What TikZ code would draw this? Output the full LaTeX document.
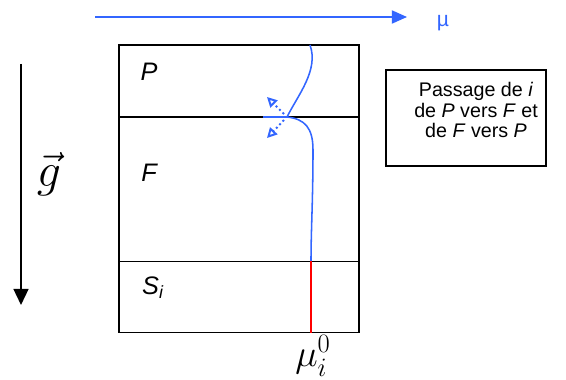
\RequirePackage{fix-cm}
\documentclass[tikz,border=0pt]{standalone}
\usepackage{fontspec}
\setmainfont{Liberation Sans}
\usetikzlibrary{arrows.meta, positioning}
\definecolor{curveblue}{RGB}{51,102,255}
\definecolor{seedred}{RGB}{255,0,0}

\begin{document}
\begin{tikzpicture}[
  x=0.025cm, y=-0.025cm,
  phase/.style={rectangle, draw, line width=0.9pt, minimum width=6cm, outer sep=0pt, inner sep=0pt},
  phlabel/.style={font=\fontsize{18}{20}\selectfont\itshape},
  info/.style={rectangle, draw, line width=0.9pt, minimum width=4cm, minimum height=2.4cm},
  infotext/.style={font=\fontsize{14}{14.5}\selectfont\setlength{\lineskiplimit}{-10pt}, align=center, inner sep=0pt},
  blueline/.style={draw=curveblue, line width=1.1pt},
  node distance=0pt,
]
\useasboundingbox (0,0) rectangle (566,380);

% axes
\coordinate (uL) at (95,17);
\coordinate (uR) at (407,17);
\draw[blueline, -{Triangle[length=0.38cm, width=0.33cm]}] (uL) -- (uR);
\node[text=curveblue, font=\fontsize{15}{16}\selectfont] (ulabel) at (443,23) {µ};

\coordinate (gT) at (21,64);
\coordinate (gB) at (21,305);
\draw[line width=1.4pt, -{Triangle[length=0.4cm, width=0.37cm]}] (gT) -- (gB);
\node[font=\fontsize{34}{36}\selectfont] (gvec) at (49,174) {$\vec{g}$};

% phases
\node[phase, minimum height=1.8cm, anchor=north west] (phP) at (119,45) {};
\node[phase, minimum height=3.61cm, below=of phP] (phF) {};
\node[phase, minimum height=1.775cm, below=of phF] (phS) {};
\node[phlabel] at (149,72) {P};
\node[phlabel] at (149,173) {F};
\node[phlabel] at (153,288) {S\textsubscript{i}};

% passage box
\node[info] (pbox) at (466,118) {};
\node[infotext] (ptext) at (476,110) {Passage de \textit{i}\\de \textit{P} vers \textit{F} et\\de \textit{F} vers \textit{P}};

% chemical potential profile
\coordinate (jn) at (287,117);
\coordinate (jL) at (263,117);
\coordinate (sTop) at (311,261.5);
\coordinate (sBot) at (311,332.5);
\draw[blueline] (310,45) .. controls (319,70) and (298,95) .. (jn)
  .. controls (305,119) and (313,128) .. (313,150)
  .. controls (313,200) and (311,230) .. (sTop);
\draw[blueline] (jL) -- (jn);
\draw[draw=seedred, line width=1.1pt] (sTop) -- (sBot);
\coordinate (dU) at (267,97);
\coordinate (dD) at (267,138);
\draw[blueline, line width=1.4pt, dotted, -{Triangle[open, length=0.25cm, width=0.25cm]}] (284,114) -- (dU);
\draw[blueline, line width=1.4pt, dotted, -{Triangle[open, length=0.25cm, width=0.25cm]}] (284,120) -- (dD);
\node[font=\fontsize{27}{29}\selectfont] (muzero) at (313,356) {$\mu_i^0$};
\end{tikzpicture}
\end{document}
